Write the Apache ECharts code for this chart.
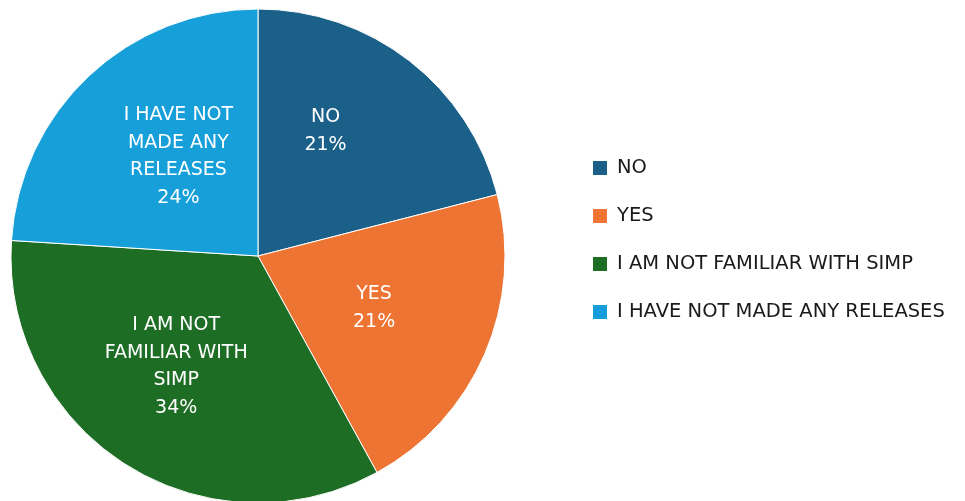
<!DOCTYPE html>
<html>
<head>
<meta charset="utf-8">
<script src="https://cdn.jsdelivr.net/npm/echarts@6/dist/echarts.min.js"></script>
<style>
  html, body { margin: 0; padding: 0; background: #fff; }
  #pie-chart { width: 965px; height: 501px; }
</style>
</head>
<body>
<div id="pie-chart"></div>
<script>
var categories = ['NO', 'YES', 'I AM NOT FAMILIAR WITH SIMP', 'I HAVE NOT MADE ANY RELEASES'];
var sliceLabels = ['NO', 'YES', 'I AM NOT\nFAMILIAR WITH\nSIMP', 'I HAVE NOT\nMADE ANY\nRELEASES'];
var percents = [21, 21, 34, 24];
var colors = ['#1b6088', '#ee7433', '#1e6d25', '#179fda'];

// nudges so the inside labels sit where the original has them
var labelShift = [[-10, -25], [0, 2], [-14, 4], [7, -7]];

var pieChart = echarts.init(document.getElementById('pie-chart'));

var pieData = [];
for (var i = 0; i < categories.length; i++) {
	pieData.push({
		name: categories[i],
		value: percents[i],
		label: { formatter: sliceLabels[i] + '\n{d}%' }
	});
}

var pieOption = {
	color: colors,
	animation: false,
	legend: {
		orient: 'vertical',
		left: 591,
		top: 158,
		padding: 0,
		icon: 'rect',
		itemWidth: 16,
		itemHeight: 16,
		itemGap: 28,
		textStyle: {
			color: '#1a1a1a',
			fontSize: 19.5,
			fontFamily: 'DejaVu Sans',
			padding: [0, 0, 0, 4]
		},
		data: categories
	},
	series: [{
		type: 'pie',
		center: [258, 256],
		radius: [0, 247],
		startAngle: 90,
		clockwise: true,
		data: pieData,
		itemStyle: {
			borderColor: '#ffffff',
			borderWidth: 1
		},
		label: {
			show: true,
			position: 'inside',
			color: '#ffffff',
			fontSize: 19,
			fontFamily: 'DejaVu Sans',
			lineHeight: 27.5,
			align: 'center'
		},
		labelLayout: function (params) {
			var s = labelShift[params.dataIndex];
			return { dx: s[0], dy: s[1] };
		},
		labelLine: { show: false },
		emphasis: { disabled: true }
	}]
};
pieChart.setOption(pieOption);
</script>
</body>
</html>
